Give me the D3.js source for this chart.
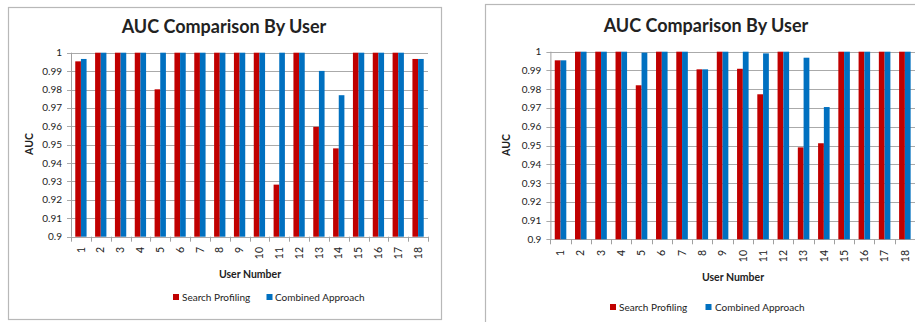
<!DOCTYPE html>
<html><head><meta charset="utf-8">
<script src="https://cdn.jsdelivr.net/npm/d3@7/dist/d3.min.js"></script>
<style>
body{margin:0;background:#fff}
svg{display:block}
text{font-family:Lato,"Open Sans",sans-serif;fill:#222}
</style></head>
<body>
<svg id="c" width="915" height="322"></svg>
<script>
// ---- data ----
const users = ["1","2","3","4","5","6","7","8","9","10","11","12","13","14","15","16","17","18"];
const seriesNames = ["Search Profiling","Combined Approach"];
const yTickValues = [0.9,0.91,0.92,0.93,0.94,0.95,0.96,0.97,0.98,0.99,1];
const yTickLabels = ["0.9","0.91","0.92","0.93","0.94","0.95","0.96","0.97","0.98","0.99","1"];
const leftSearch   = [0.9953,1,1,1,0.9801,1,1,1,1,1,0.9283,1,0.9597,0.9480,1,1,1,0.9966];
const leftCombined = [0.9966,1,1,1,1,1,1,1,1,1,1,1,0.9901,0.9769,1,1,1,0.9966];
const rightSearch   = [0.9954,1,1,1,0.9821,1,1,0.9906,1,0.9909,0.9773,1,0.9490,0.9512,1,1,1,1];
const rightCombined = [0.9954,1,1,1,0.9995,1,1,0.9906,1,1,0.9991,1,0.9968,0.9705,1,1,1,1];
const chartTitle = "AUC Comparison By User";
const xTitle = "User Number";
const yTitle = "AUC";
const colors = ["#C00000","#0070C0"];

const svg = d3.select("#c");

function drawPanel(p, search, combined){
  const g = svg.append("g");
  g.append("rect").attr("x",p.frame[0]).attr("y",p.frame[1]).attr("width",p.frame[2]).attr("height",p.frame[3])
    .attr("fill","#fff").attr("stroke","#b8b8b8").attr("stroke-width",1.2);

  const x = d3.scaleBand().domain(users).range([p.x0,p.x1]).paddingInner(0.43).paddingOuter(0.215);
  const xs = d3.scaleBand().domain(seriesNames).range([0,x.bandwidth()]);
  const y = d3.scaleLinear().domain([0.9,1]).range([p.yBot,p.yTop]);
  const step = (p.x1-p.x0)/users.length;

  // gridlines
  g.append("g").selectAll("line").data(yTickValues).join("line")
    .attr("x1",p.x0-4).attr("x2",p.x1).attr("y1",d=>Math.round(y(d))+0.5).attr("y2",d=>Math.round(y(d))+0.5)
    .attr("stroke","#aaaaaa").attr("stroke-width",1);
  // y axis line
  g.append("line").attr("x1",p.x0+0.5).attr("x2",p.x0+0.5).attr("y1",p.yTop).attr("y2",p.yBot)
    .attr("stroke","#a0a0a0");
  // x category ticks
  g.append("g").selectAll("line").data(d3.range(users.length+1)).join("line")
    .attr("x1",i=>Math.round(p.x0+i*step)+0.5).attr("x2",i=>Math.round(p.x0+i*step)+0.5)
    .attr("y1",p.yBot).attr("y2",p.yBot+5).attr("stroke","#a0a0a0");

  // y labels
  g.append("g").selectAll("text").data(yTickValues).join("text")
    .attr("x",p.x0-9).attr("y",d=>y(d)).attr("dy","0.35em").attr("text-anchor","end")
    .attr("font-size",10).text((d,i)=>yTickLabels[i]);

  // bars
  const data = [search, combined];
  seriesNames.forEach((s,si)=>{
    g.append("g").selectAll("rect").data(users).join("rect")
      .attr("x",(u)=>x(u)+xs(s)).attr("width",xs.bandwidth())
      .attr("y",(u,i)=>y(data[si][i])).attr("height",(u,i)=>y(0.9)-y(data[si][i]))
      .attr("fill",colors[si]);
  });

  // x labels
  g.append("g").selectAll("text").data(users).join("text")
    .attr("transform",u=>`translate(${x(u)+x.bandwidth()/2},${p.xLabelY}) rotate(-90)`)
    .attr("text-anchor","end").attr("dy","0.35em").attr("font-size",10.5).text(u=>u);

  // titles
  g.append("text").attr("x",p.title[0]).attr("y",p.title[1]).attr("text-anchor","middle")
    .attr("font-size",18).attr("font-weight","bold").attr("fill","#111").text(chartTitle);
  g.append("text").attr("x",p.xTitle[0]).attr("y",p.xTitle[1]).attr("text-anchor","middle")
    .attr("font-size",10.5).attr("font-weight","bold").attr("fill","#111").text(xTitle);
  g.append("text").attr("transform",`translate(${p.yTitle[0]},${p.yTitle[1]}) rotate(-90)`)
    .attr("text-anchor","middle").attr("dy","0.35em").attr("font-size",10.5).attr("font-weight","bold").attr("fill","#111").text(yTitle);

  // legend
  seriesNames.forEach((s,si)=>{
    g.append("rect").attr("x",p.legend[si][0]).attr("y",p.legendY-3).attr("width",6).attr("height",6).attr("fill",colors[si]);
    g.append("text").attr("x",p.legend[si][1]).attr("y",p.legendY).attr("dy","0.35em")
      .attr("font-size",10).attr("fill","#333").text(s);
  });
}

drawPanel({frame:[8.5,7.5,433,312], x0:71, x1:428, yTop:52.7, yBot:236.7, xLabelY:247,
  title:[224,33], xTitle:[250,278], yTitle:[29,144], legendY:297, legend:[[173,182],[266.5,275]]},
  leftSearch, leftCombined);
drawPanel({frame:[485.5,4.5,600,400], x0:550.4, x1:915, yTop:51.7, yBot:239.3, xLabelY:250,
  title:[706,32], xTitle:[733,281], yTitle:[506,145], legendY:307, legend:[[610,619],[705.5,715]]},
  rightSearch, rightCombined);
</script>
</body></html>
